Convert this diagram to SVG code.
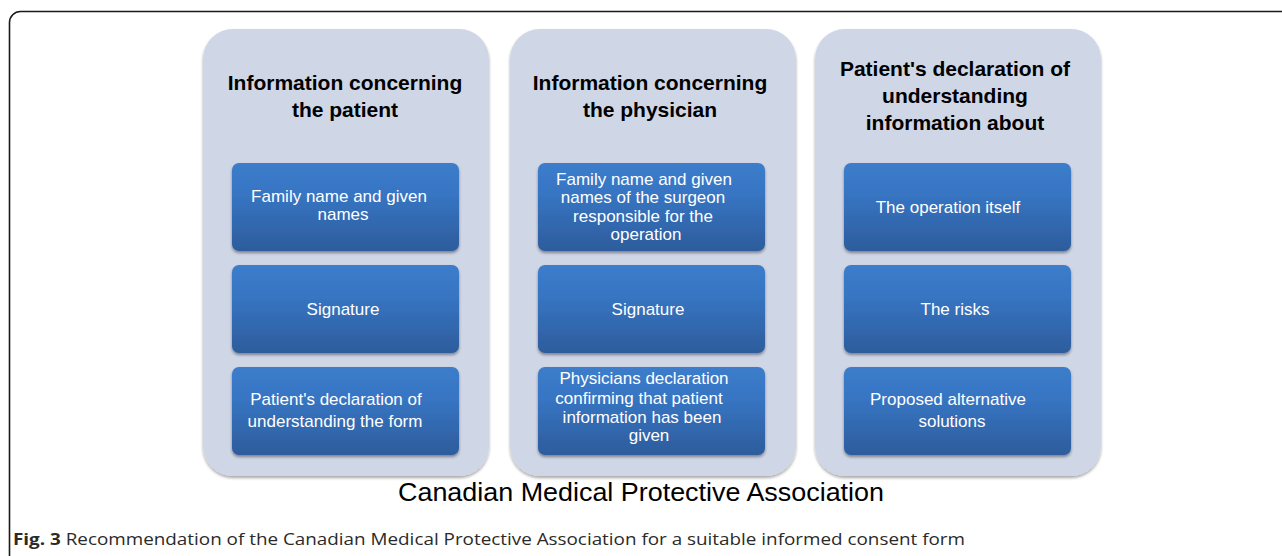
<svg xmlns="http://www.w3.org/2000/svg" width="1282" height="556" viewBox="0 0 1282 556">
  <style>
    .frame { fill: #ffffff; stroke: #1a1a1a; stroke-width: 1.6; }
    .panel { fill: #cfd6e6; filter: url(#panelShadow); }
    .box { fill: url(#boxFill); filter: url(#boxShadow); }
    .title { font-family: "Liberation Sans", Arial, sans-serif; font-size: 21px; font-weight: bold; fill: #000000; text-anchor: middle; }
    .label { font-family: "Liberation Sans", Arial, sans-serif; font-size: 17px; fill: #ffffff; text-anchor: middle; }
    .assoc { font-family: "Liberation Sans", Arial, sans-serif; font-size: 25px; fill: #000000; text-anchor: middle; }
    .caption { font-family: "Open Sans", "Noto Sans", sans-serif; font-size: 16px; fill: #2a2a2a; }
  </style>
  <defs>
    <linearGradient id="boxFill" x1="0" y1="0" x2="0" y2="1">
      <stop offset="0" stop-color="#3c7dcb"/>
      <stop offset="0.35" stop-color="#3775c3"/>
      <stop offset="1" stop-color="#2d5c9c"/>
    </linearGradient>
    <filter id="panelShadow" x="-5%" y="-5%" width="110%" height="110%">
      <feGaussianBlur in="SourceAlpha" stdDeviation="1.5"/>
      <feOffset dx="0" dy="2" result="b"/>
      <feComponentTransfer><feFuncA type="linear" slope="0.35"/></feComponentTransfer>
      <feMerge><feMergeNode/><feMergeNode in="SourceGraphic"/></feMerge>
    </filter>
    <filter id="boxShadow" x="-5%" y="-10%" width="110%" height="125%">
      <feGaussianBlur in="SourceAlpha" stdDeviation="1.5"/>
      <feOffset dx="0" dy="2" result="b"/>
      <feComponentTransfer><feFuncA type="linear" slope="0.4"/></feComponentTransfer>
      <feMerge><feMergeNode/><feMergeNode in="SourceGraphic"/></feMerge>
    </filter>
  </defs>

  <rect x="0" y="0" width="1282" height="556" fill="#ffffff"/>
  <!-- figure frame, open at right and bottom -->
  <rect class="frame" x="9.5" y="11.5" width="1300" height="580" rx="11"/>

  <!-- column 1 -->
  <g id="col-patient">
    <rect class="panel" x="203" y="29" width="286" height="447" rx="30"/>
    <text class="title" x="345" y="90">Information concerning</text>
    <text class="title" x="345" y="117">the patient</text>
    <g id="p-name">
      <rect class="box" x="232" y="163" width="227" height="88" rx="7"/>
      <text class="label" x="339" y="202">Family name and given</text>
      <text class="label" x="343" y="220">names</text>
    </g>
    <g id="p-sign">
      <rect class="box" x="232" y="265" width="227" height="88" rx="7"/>
      <text class="label" x="343" y="315">Signature</text>
    </g>
    <g id="p-decl">
      <rect class="box" x="232" y="367" width="227" height="88" rx="7"/>
      <text class="label" x="336" y="405">Patient's declaration of</text>
      <text class="label" x="335" y="427">understanding the form</text>
    </g>
  </g>

  <!-- column 2 -->
  <g id="col-physician">
    <rect class="panel" x="510" y="29" width="286" height="447" rx="30"/>
    <text class="title" x="650" y="90">Information concerning</text>
    <text class="title" x="650" y="117">the physician</text>
    <g id="d-name">
      <rect class="box" x="538" y="163" width="227" height="88" rx="7"/>
      <text class="label" x="644" y="185">Family name and given</text>
      <text class="label" x="643" y="203">names of the surgeon</text>
      <text class="label" x="643" y="222">responsible for the</text>
      <text class="label" x="646" y="240">operation</text>
    </g>
    <g id="d-sign">
      <rect class="box" x="538" y="265" width="227" height="88" rx="7"/>
      <text class="label" x="648" y="315">Signature</text>
    </g>
    <g id="d-decl">
      <rect class="box" x="538" y="367" width="227" height="88" rx="7"/>
      <text class="label" x="644" y="384">Physicians declaration</text>
      <text class="label" x="639" y="404">confirming that patient</text>
      <text class="label" x="642" y="423">information has been</text>
      <text class="label" x="649" y="441">given</text>
    </g>
  </g>

  <!-- column 3 -->
  <g id="col-understanding">
    <rect class="panel" x="815" y="29" width="286" height="447" rx="30"/>
    <text class="title" x="955" y="76">Patient's declaration of</text>
    <text class="title" x="955" y="103">understanding</text>
    <text class="title" x="955" y="130">information about</text>
    <g id="u-operation">
      <rect class="box" x="844" y="163" width="227" height="88" rx="7"/>
      <text class="label" x="948" y="213">The operation itself</text>
    </g>
    <g id="u-risks">
      <rect class="box" x="844" y="265" width="227" height="88" rx="7"/>
      <text class="label" x="955" y="315">The risks</text>
    </g>
    <g id="u-alternatives">
      <rect class="box" x="844" y="367" width="227" height="88" rx="7"/>
      <text class="label" x="948" y="405">Proposed alternative</text>
      <text class="label" x="952" y="427">solutions</text>
    </g>
  </g>

  <g id="connectors"/>

  <text class="assoc" x="641" y="501" textLength="486" lengthAdjust="spacingAndGlyphs">Canadian Medical Protective Association</text>
  <text class="caption" x="13" y="545" textLength="952" lengthAdjust="spacingAndGlyphs"><tspan font-weight="bold">Fig. 3</tspan> Recommendation of the Canadian Medical Protective Association for a suitable informed consent form</text>
</svg>
